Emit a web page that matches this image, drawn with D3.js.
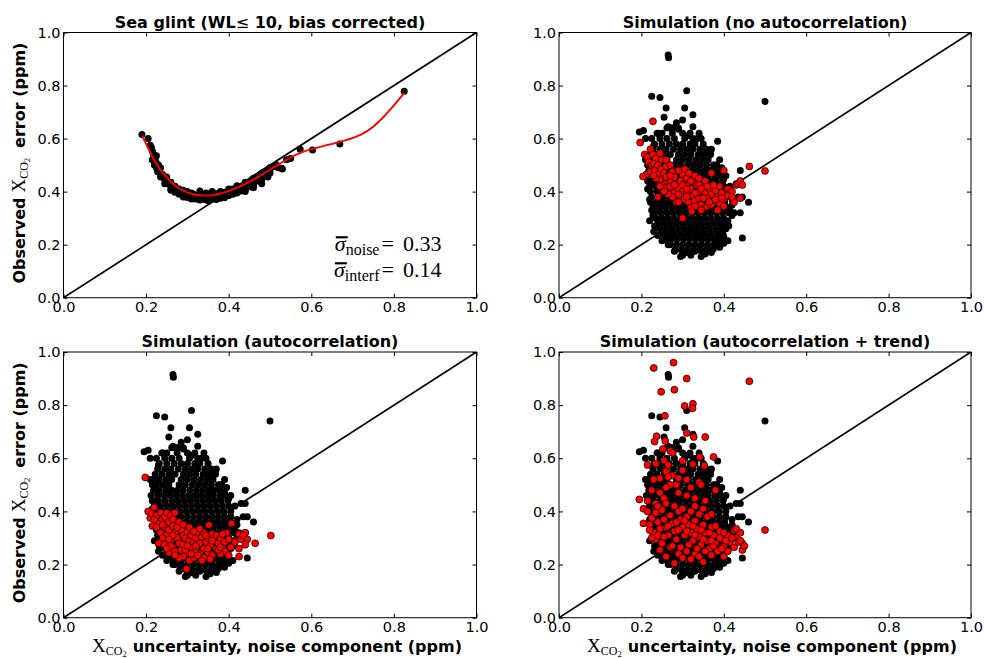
<!DOCTYPE html>
<html><head><meta charset="utf-8">
<script src="https://cdn.jsdelivr.net/npm/d3@7"></script>
<style>body{margin:0;background:#fff} svg{display:block}</style>
</head><body><svg id="c" width="984" height="658"></svg>
<script>
// ---------- data ----------
const tickValues = [0.0, 0.2, 0.4, 0.6, 0.8, 1.0];
const panelTitles = [
  ["Sea glint (WL", "≤", " 10, bias corrected)"],
  ["Simulation (no autocorrelation)"],
  ["Simulation (autocorrelation)"],
  ["Simulation (autocorrelation + trend)"]
];
const statNames = ["noise", "interf"];
const statValues = ["0.33", "0.14"];

// panel 1: sea glint observations and fitted curve
const glintCurve = [[0.19,0.612],[0.20,0.58],[0.21,0.548],[0.22,0.518],[0.23,0.493],[0.24,0.472],[0.25,0.455],[0.26,0.437],[0.28,0.412],[0.30,0.397],[0.32,0.388],[0.34,0.385],[0.36,0.387],[0.38,0.393],[0.40,0.402],[0.42,0.414],[0.44,0.428],[0.46,0.445],[0.48,0.464],[0.50,0.483],[0.52,0.502],[0.54,0.52],[0.56,0.537],[0.58,0.55],[0.60,0.56],[0.64,0.576],[0.68,0.592],[0.72,0.615],[0.75,0.645],[0.78,0.69],[0.80,0.725],[0.825,0.772]];
const glintPoints = [[0.19,0.615],[0.205,0.60],[0.21,0.575],[0.213,0.565],[0.216,0.55],[0.218,0.54],[0.22,0.53],[0.222,0.525],[0.224,0.51],[0.226,0.505],[0.228,0.495],[0.225,0.49],[0.23,0.485],[0.232,0.478],[0.235,0.47],[0.238,0.465],[0.24,0.458],[0.243,0.452],[0.245,0.447],[0.248,0.44],[0.25,0.437],[0.253,0.432],[0.256,0.428],[0.26,0.423],[0.262,0.418],[0.265,0.415],[0.268,0.41],[0.27,0.406],[0.274,0.403],[0.278,0.399],[0.282,0.396],[0.285,0.393],[0.29,0.39],[0.294,0.387],[0.298,0.385],[0.302,0.383],[0.306,0.381],[0.31,0.38],[0.315,0.378],[0.32,0.377],[0.325,0.376],[0.33,0.375],[0.335,0.375],[0.34,0.374],[0.345,0.375],[0.35,0.375],[0.355,0.376],[0.36,0.377],[0.365,0.378],[0.37,0.379],[0.375,0.381],[0.38,0.383],[0.385,0.385],[0.39,0.388],[0.395,0.39],[0.40,0.393],[0.405,0.396],[0.41,0.4],[0.415,0.403],[0.42,0.406],[0.425,0.41],[0.43,0.414],[0.435,0.418],[0.44,0.42],[0.445,0.425],[0.45,0.43],[0.455,0.435],[0.46,0.44],[0.465,0.444],[0.47,0.45],[0.475,0.455],[0.48,0.46],[0.485,0.465],[0.49,0.47],[0.495,0.478],[0.5,0.484],[0.51,0.495],[0.516,0.50],[0.528,0.488],[0.54,0.52],[0.55,0.525],[0.573,0.56],[0.603,0.557],[0.669,0.58],[0.825,0.778],
[0.225,0.535],[0.235,0.49],[0.25,0.455],[0.27,0.42],[0.29,0.405],[0.31,0.395],[0.33,0.39],[0.35,0.39],[0.37,0.392],[0.39,0.398],[0.41,0.41],[0.43,0.42],[0.45,0.435],[0.47,0.455],[0.49,0.475],[0.33,0.402],[0.30,0.40],[0.36,0.40],[0.42,0.422],[0.44,0.435],[0.46,0.45],[0.48,0.47],[0.5,0.49],[0.28,0.41],[0.26,0.435],[0.24,0.465],[0.23,0.50],[0.28,0.39],[0.30,0.378],[0.32,0.372],[0.34,0.37],[0.36,0.372],[0.38,0.375],[0.40,0.385],[0.42,0.395],[0.44,0.41],[0.46,0.425],[0.48,0.445],[0.50,0.47],
[0.27,0.398],[0.29,0.38],[0.31,0.372],[0.33,0.368],[0.35,0.366],[0.37,0.37],[0.39,0.377],[0.41,0.39],[0.43,0.402],[0.45,0.418],[0.47,0.44],[0.49,0.46],[0.26,0.41],[0.245,0.43],[0.235,0.455],[0.228,0.475],[0.22,0.50],[0.215,0.52],[0.44,0.40],[0.46,0.415],[0.48,0.43],[0.495,0.455],[0.52,0.49],[0.53,0.485],[0.26,0.405],[0.4,0.41],[0.38,0.40],[0.345,0.395],[0.315,0.39]];

// panels 2-4: observed cloud (black), rows of [y, xs]
const observedRows = [
 [0.64,[0.262,0.272,0.29]],
 [0.62,[0.238,0.25,0.275,0.3,0.318]],
 [0.60,[0.225,0.245,0.262,0.28,0.305,0.325,0.335]],
 [0.58,[0.232,0.25,0.268,0.285,0.3,0.318,0.33]],
 [0.56,[0.228,0.245,0.26,0.278,0.295,0.31,0.325,0.342,0.358]],
 [0.54,[0.222,0.238,0.255,0.27,0.29,0.305,0.32,0.338,0.352,0.368]],
 [0.52,[0.218,0.232,0.248,0.262,0.285,0.3,0.316,0.332,0.348,0.362]],
 [0.50,[0.225,0.24,0.255,0.28,0.295,0.312,0.327,0.342,0.358,0.375,0.383]],
 [0.48,[0.218,0.232,0.248,0.262,0.276,0.29,0.306,0.322,0.337,0.352,0.366,0.38]],
 [0.46,[0.212,0.228,0.243,0.258,0.273,0.288,0.303,0.318,0.333,0.348,0.362,0.378,0.392]],
 [0.44,[0.215,0.23,0.246,0.262,0.277,0.292,0.307,0.322,0.337,0.352,0.367,0.382,0.398]],
 [0.42,[0.22,0.235,0.25,0.265,0.28,0.295,0.31,0.325,0.34,0.355,0.37,0.385,0.4]],
 [0.40,[0.222,0.238,0.253,0.268,0.283,0.298,0.313,0.328,0.343,0.358,0.373,0.388,0.405]],
 [0.38,[0.225,0.24,0.255,0.27,0.285,0.3,0.315,0.33,0.345,0.36,0.375,0.39,0.405]],
 [0.36,[0.222,0.237,0.252,0.267,0.282,0.297,0.312,0.327,0.342,0.357,0.372,0.387,0.402]],
 [0.34,[0.228,0.243,0.258,0.273,0.288,0.303,0.318,0.333,0.348,0.363,0.378,0.393,0.408]],
 [0.32,[0.232,0.247,0.262,0.277,0.292,0.307,0.322,0.337,0.352,0.367,0.382,0.397,0.412]],
 [0.30,[0.235,0.25,0.265,0.28,0.295,0.31,0.325,0.34,0.355,0.37,0.385,0.4]],
 [0.28,[0.24,0.255,0.27,0.285,0.3,0.315,0.33,0.345,0.36,0.375,0.39,0.402]],
 [0.26,[0.245,0.26,0.275,0.29,0.305,0.32,0.335,0.35,0.365,0.38,0.395]],
 [0.24,[0.25,0.265,0.28,0.295,0.31,0.325,0.34,0.355,0.37,0.385,0.398]],
 [0.22,[0.258,0.272,0.287,0.302,0.317,0.332,0.347,0.362,0.377,0.39]],
 [0.20,[0.27,0.285,0.3,0.315,0.33,0.345,0.36,0.375,0.385]],
 [0.18,[0.282,0.297,0.312,0.327,0.342,0.357,0.37]]
];
const observedOutliers = [[0.265,0.915],[0.266,0.905],[0.225,0.76],[0.245,0.755],[0.31,0.78],[0.26,0.715],[0.305,0.715],[0.325,0.69],[0.255,0.68],[0.30,0.67],[0.50,0.74],[0.195,0.625],[0.205,0.63],[0.21,0.60],[0.265,0.645],[0.275,0.64],[0.29,0.635],[0.325,0.645],[0.385,0.59],[0.36,0.55],[0.367,0.545],[0.38,0.50],[0.39,0.47],[0.40,0.45],[0.44,0.48],[0.44,0.43],[0.43,0.43],[0.435,0.38],[0.445,0.38],[0.46,0.36],[0.42,0.37],[0.425,0.32],[0.44,0.32],[0.42,0.31],[0.41,0.29],[0.405,0.26],[0.40,0.23],[0.41,0.215],[0.445,0.225],[0.39,0.19],[0.22,0.37],[0.225,0.33],[0.22,0.29],[0.23,0.25],[0.295,0.155],[0.30,0.16],[0.345,0.155],[0.37,0.17],[0.31,0.17],[0.33,0.175],[0.225,0.44],
 [0.215,0.50],[0.21,0.52],[0.23,0.575],[0.35,0.58],[0.345,0.60],[0.37,0.56],[0.39,0.52],[0.395,0.49],[0.405,0.46],[0.415,0.42],[0.42,0.35],[0.415,0.33],[0.412,0.27],[0.40,0.205],[0.375,0.185],[0.355,0.165],[0.32,0.16],[0.28,0.175],[0.265,0.20],[0.25,0.215],[0.24,0.235],[0.232,0.27],[0.228,0.31],[0.215,0.41],[0.24,0.62],[0.31,0.61],[0.285,0.66],[0.34,0.62]];

// simulated (red) series
const simNoAutocorr = [[0.197,0.585],[0.208,0.54],[0.215,0.53],[0.222,0.56],[0.228,0.54],[0.218,0.51],[0.225,0.50],[0.235,0.525],[0.23,0.505],[0.212,0.465],[0.222,0.475],[0.232,0.48],[0.24,0.50],[0.245,0.545],[0.25,0.52],[0.24,0.465],[0.248,0.485],[0.255,0.47],[0.26,0.495],[0.265,0.46],[0.258,0.44],[0.245,0.445],[0.235,0.45],[0.25,0.425],[0.262,0.415],[0.27,0.44],[0.275,0.475],[0.28,0.455],[0.285,0.43],[0.272,0.41],[0.28,0.395],[0.29,0.41],[0.295,0.44],[0.30,0.465],[0.305,0.485],[0.31,0.45],[0.315,0.425],[0.30,0.40],[0.295,0.38],[0.285,0.36],[0.305,0.37],[0.31,0.395],[0.32,0.41],[0.325,0.44],[0.33,0.46],[0.335,0.425],[0.34,0.40],[0.325,0.385],[0.315,0.36],[0.32,0.34],[0.33,0.365],[0.34,0.375],[0.345,0.35],[0.35,0.42],[0.355,0.395],[0.36,0.375],[0.35,0.335],[0.36,0.345],[0.365,0.41],[0.37,0.39],[0.375,0.36],[0.38,0.405],[0.385,0.38],[0.39,0.42],[0.395,0.395],[0.40,0.37],[0.39,0.355],[0.41,0.41],[0.415,0.395],[0.42,0.40],[0.43,0.425],[0.435,0.43],[0.44,0.44],[0.445,0.425],[0.44,0.375],[0.425,0.36],[0.40,0.345],[0.385,0.33],[0.37,0.35],[0.345,0.33],[0.33,0.345],[0.30,0.30],[0.322,0.325],[0.29,0.36],[0.275,0.38],[0.265,0.39],[0.255,0.40],[0.245,0.42],[0.24,0.38],[0.23,0.46],[0.26,0.52],[0.27,0.50],[0.29,0.48],[0.315,0.47],[0.34,0.45],[0.355,0.44],[0.37,0.47],[0.40,0.48],[0.462,0.495],[0.50,0.478],[0.228,0.665],[0.27,0.42],[0.29,0.39],[0.31,0.38],[0.33,0.395],[0.35,0.375],[0.365,0.36],[0.38,0.37],[0.395,0.375],[0.41,0.385],[0.42,0.38],[0.28,0.425],[0.30,0.425],[0.32,0.44],[0.34,0.425],[0.36,0.42],[0.375,0.425],[0.345,0.41],[0.26,0.455],[0.31,0.41],[0.27,0.46],[0.204,0.457]];
const simAutocorr = [[0.198,0.528],[0.502,0.309],[0.352,0.349],[0.298,0.183],[0.464,0.28],[0.205,0.40],[0.21,0.375],[0.22,0.415],[0.215,0.39],[0.225,0.385],[0.23,0.36],[0.215,0.345],[0.225,0.34],[0.235,0.395],[0.24,0.37],[0.245,0.38],[0.25,0.395],[0.255,0.36],[0.26,0.385],[0.265,0.37],[0.235,0.32],[0.245,0.34],[0.25,0.31],[0.24,0.30],[0.23,0.28],[0.245,0.275],[0.255,0.33],[0.26,0.29],[0.265,0.345],[0.27,0.32],[0.275,0.30],[0.28,0.36],[0.285,0.33],[0.29,0.31],[0.28,0.28],[0.265,0.265],[0.255,0.245],[0.27,0.25],[0.285,0.255],[0.29,0.275],[0.295,0.30],[0.30,0.325],[0.305,0.29],[0.31,0.265],[0.30,0.245],[0.29,0.23],[0.305,0.215],[0.31,0.31],[0.315,0.285],[0.32,0.30],[0.325,0.32],[0.33,0.28],[0.335,0.305],[0.34,0.32],[0.32,0.255],[0.33,0.24],[0.34,0.26],[0.345,0.285],[0.35,0.30],[0.355,0.27],[0.35,0.245],[0.34,0.225],[0.36,0.315],[0.365,0.29],[0.37,0.31],[0.37,0.26],[0.375,0.28],[0.38,0.30],[0.385,0.27],[0.39,0.285],[0.39,0.25],[0.38,0.24],[0.36,0.235],[0.395,0.32],[0.40,0.295],[0.405,0.265],[0.40,0.235],[0.407,0.355],[0.415,0.285],[0.425,0.315],[0.43,0.295],[0.44,0.32],[0.445,0.295],[0.44,0.275],[0.425,0.26],[0.425,0.23],[0.435,0.31],[0.315,0.225],[0.28,0.225],[0.27,0.235],[0.26,0.27],[0.25,0.26],[0.24,0.35],[0.22,0.37],[0.27,0.395],[0.275,0.34],[0.29,0.35],[0.305,0.34],[0.315,0.325],[0.33,0.335],[0.345,0.31],[0.36,0.29],[0.375,0.255],[0.385,0.315],[0.31,0.24],[0.325,0.235],[0.335,0.215],[0.355,0.22],[0.295,0.255],[0.32,0.27],[0.35,0.26],[0.38,0.265],[0.30,0.27],[0.265,0.31],[0.255,0.295]];
const simAutocorrTrend = [[0.23,0.94],[0.278,0.96],[0.31,0.90],[0.248,0.85],[0.28,0.858],[0.462,0.89],[0.325,0.805],[0.324,0.788],[0.305,0.797],[0.257,0.76],[0.31,0.695],[0.327,0.68],[0.355,0.68],[0.237,0.683],[0.232,0.663],[0.258,0.665],[0.252,0.635],[0.27,0.628],[0.375,0.605],[0.342,0.605],[0.215,0.575],[0.255,0.592],[0.276,0.62],[0.30,0.59],[0.353,0.572],[0.325,0.578],[0.265,0.575],[0.195,0.445],[0.205,0.41],[0.205,0.355],[0.50,0.33],[0.38,0.48],[0.235,0.58],[0.26,0.55],[0.275,0.535],[0.29,0.525],[0.31,0.52],[0.34,0.51],[0.30,0.555],[0.245,0.525],[0.23,0.52],[0.225,0.48],[0.245,0.47],[0.265,0.53],[0.285,0.50],[0.32,0.49],[0.345,0.50],[0.27,0.50],[0.255,0.45],[0.215,0.44],[0.235,0.43],[0.31,0.46],[0.33,0.45],[0.355,0.44],[0.29,0.47],[0.26,0.49],
[0.215,0.40],[0.225,0.375],[0.22,0.35],[0.23,0.32],[0.235,0.395],[0.24,0.36],[0.245,0.335],[0.25,0.405],[0.255,0.37],[0.26,0.34],[0.265,0.31],[0.27,0.385],[0.275,0.355],[0.28,0.325],[0.285,0.295],[0.29,0.40],[0.295,0.37],[0.30,0.34],[0.305,0.31],[0.31,0.38],[0.315,0.35],[0.32,0.32],[0.325,0.29],[0.33,0.365],[0.335,0.335],[0.34,0.305],[0.345,0.275],[0.35,0.35],[0.355,0.32],[0.36,0.29],[0.365,0.26],[0.37,0.34],[0.375,0.31],[0.38,0.28],[0.385,0.25],[0.39,0.325],[0.395,0.295],[0.40,0.27],[0.41,0.31],[0.415,0.285],[0.425,0.33],[0.43,0.30],[0.44,0.32],[0.445,0.28],[0.445,0.255],[0.425,0.265],[0.40,0.23],[0.37,0.235],[0.35,0.21],[0.33,0.24],[0.31,0.25],[0.29,0.24],[0.28,0.205],[0.27,0.265],[0.25,0.28],[0.235,0.295],[0.245,0.255],[0.26,0.23],[0.24,0.31],[0.255,0.305],[0.275,0.27],[0.295,0.265],[0.315,0.275],[0.335,0.26],[0.355,0.25],[0.375,0.27],[0.395,0.26],[0.41,0.25],[0.30,0.225],[0.32,0.22],[0.34,0.23],[0.29,0.33],[0.31,0.325],[0.33,0.31],[0.35,0.295],[0.37,0.29],[0.39,0.30],[0.405,0.29],[0.265,0.345],[0.285,0.36],[0.305,0.365],[0.325,0.345],[0.345,0.33],[0.365,0.32],[0.38,0.345],[0.36,0.38],[0.34,0.39],[0.32,0.40],[0.30,0.41],[0.28,0.42],[0.26,0.43],[0.24,0.42],[0.33,0.42],[0.35,0.41],[0.37,0.39],[0.225,0.30],[0.22,0.33],[0.43,0.335],[0.435,0.285],[0.42,0.30],[0.40,0.32],[0.45,0.27],[0.44,0.29]];

// ---------- layout ----------
const panels = [
  {x:63.5, y:32.5, w:413, h:265.2},
  {x:559,  y:32.5, w:412, h:265.2},
  {x:63.5, y:352,  w:413, h:265.7},
  {x:559,  y:352,  w:412, h:265.7}
];
const svg = d3.select("#c");
const SANS = "'DejaVu Sans', sans-serif";
const SERIF = "'Liberation Serif', 'DejaVu Serif', serif";
const observed = observedRows.flatMap(([y, xs]) => xs.map(x => [x, y])).concat(observedOutliers);
const redSeries = [null, simNoAutocorr, simAutocorr, simAutocorrTrend];

function mathLabel(sel) {
  sel.append("tspan").attr("dx", 5).attr("font-family", SERIF).attr("font-weight", "normal").attr("font-size", 19).text("X");
  sel.append("tspan").attr("font-family", SERIF).attr("font-weight", "normal").attr("font-size", 12).attr("dy", 3).text("CO");
  sel.append("tspan").attr("font-family", SERIF).attr("font-weight", "normal").attr("font-size", 8.5).attr("dy", 2.5).text("2");
}

panels.forEach((p, i) => {
  const g = svg.append("g").attr("transform", `translate(${p.x},${p.y})`);
  const x = d3.scaleLinear().domain([0, 1]).range([0, p.w]);
  const y = d3.scaleLinear().domain([0, 1]).range([p.h, 0]);
  const clipId = "clip" + i;
  g.append("clipPath").attr("id", clipId).append("rect").attr("width", p.w).attr("height", p.h);
  const plot = g.append("g").attr("clip-path", `url(#${clipId})`);

  // 1:1 line
  plot.append("line").attr("x1", x(0)).attr("y1", y(0)).attr("x2", x(1)).attr("y2", y(1))
    .attr("stroke", "#000").attr("stroke-width", 1.7);

  if (i === 0) {
    plot.selectAll("circle.o").data(glintPoints).join("circle")
      .attr("cx", d => x(d[0])).attr("cy", d => y(d[1])).attr("r", 3.5).attr("fill", "#000");
    plot.append("path").datum(glintCurve)
      .attr("d", d3.line().x(d => x(d[0])).y(d => y(d[1])).curve(d3.curveCatmullRom))
      .attr("fill", "none").attr("stroke", "#ff0000").attr("stroke-width", 1.9);
  } else {
    plot.selectAll("circle.o").data(observed).join("circle")
      .attr("cx", d => x(d[0])).attr("cy", d => y(d[1])).attr("r", 3.5).attr("fill", "#000");
    plot.selectAll("circle.s").data(redSeries[i]).join("circle")
      .attr("cx", d => x(d[0])).attr("cy", d => y(d[1])).attr("r", 3.5)
      .attr("fill", "#ff0000").attr("stroke", "#000").attr("stroke-width", 0.7);
  }

  // axes (inward ticks on four sides)
  const fmt = d3.format(".1f");
  const styleAxis = sel => {
    sel.select(".domain").remove();
    sel.selectAll(".tick line").attr("stroke", "#000");
    sel.selectAll("text").attr("font-family", SANS).attr("font-size", 14.5).attr("fill", "#000");
  };
  g.append("g").attr("transform", `translate(0,${p.h})`)
    .call(d3.axisBottom(x).tickValues(tickValues).tickFormat(fmt).tickSizeInner(-4).tickSizeOuter(0).tickPadding(4)).call(styleAxis);
  g.append("g")
    .call(d3.axisLeft(y).tickValues(tickValues).tickFormat(fmt).tickSizeInner(-4).tickSizeOuter(0).tickPadding(3)).call(styleAxis);
  g.append("g")
    .call(d3.axisTop(x).tickValues(tickValues).tickFormat("").tickSizeInner(-4).tickSizeOuter(0)).call(styleAxis);
  g.append("g").attr("transform", `translate(${p.w},0)`)
    .call(d3.axisRight(y).tickValues(tickValues).tickFormat("").tickSizeInner(-4).tickSizeOuter(0)).call(styleAxis);
  g.append("rect").attr("width", p.w).attr("height", p.h).attr("fill", "none").attr("stroke", "#000").attr("stroke-width", 1);

  // title
  const t = g.append("text").attr("x", p.w / 2).attr("y", -5).attr("text-anchor", "middle")
    .attr("font-family", SANS).attr("font-weight", "bold").attr("font-size", 16).attr("fill", "#000");
  panelTitles[i].forEach(s => {
    const ts = t.append("tspan").text(s);
    if (s === "≤") ts.attr("font-weight", "normal");
  });

  // y label (left column)
  if (i % 2 === 0) {
    const yl = svg.append("text")
      .attr("transform", `translate(${p.x - 39},${p.y + p.h / 2 - 2}) rotate(-90)`)
      .attr("text-anchor", "middle").attr("font-family", SANS).attr("font-weight", "bold")
      .attr("font-size", 16).attr("fill", "#000");
    yl.append("tspan").text("Observed");
    mathLabel(yl);
    yl.append("tspan").attr("dy", -5.5).attr("dx", 10).text("error (ppm)");
  }
  // x label (bottom row)
  if (i >= 2) {
    const xl = svg.append("text")
      .attr("x", p.x + p.w / 2 + 2).attr("y", p.y + p.h + 34).attr("text-anchor", "middle")
      .attr("font-family", SANS).attr("font-weight", "bold").attr("font-size", 16).attr("fill", "#000");
    mathLabel(xl);
    xl.append("tspan").attr("dy", -5.5).attr("dx", 6).text("uncertainty, noise component (ppm)");
  }

  // stats annotation (panel 1)
  if (i === 0) {
    statNames.forEach((nm, k) => {
      const by = y(0.175 - k * 0.098);
      const st = g.append("text").attr("x", x(0.915)).attr("y", by)
        .attr("text-anchor", "end").attr("font-family", SERIF).attr("font-size", 22).attr("fill", "#000");
      st.append("tspan").attr("font-style", "italic").text("σ");
      st.append("tspan").attr("font-size", 16).attr("dy", 4).text(nm);
      st.append("tspan").attr("dy", -4).attr("dx", 2).text("=");
      st.append("tspan").attr("dx", 9).text(statValues[k]);
      const n = st.node();
      const a = n.getStartPositionOfChar(0), b = n.getEndPositionOfChar(0);
      g.append("line").attr("x1", a.x + 1).attr("x2", b.x + 2).attr("y1", by - 14).attr("y2", by - 14)
        .attr("stroke", "#000").attr("stroke-width", 2.2);
    });
  }
});
</script></body></html>
